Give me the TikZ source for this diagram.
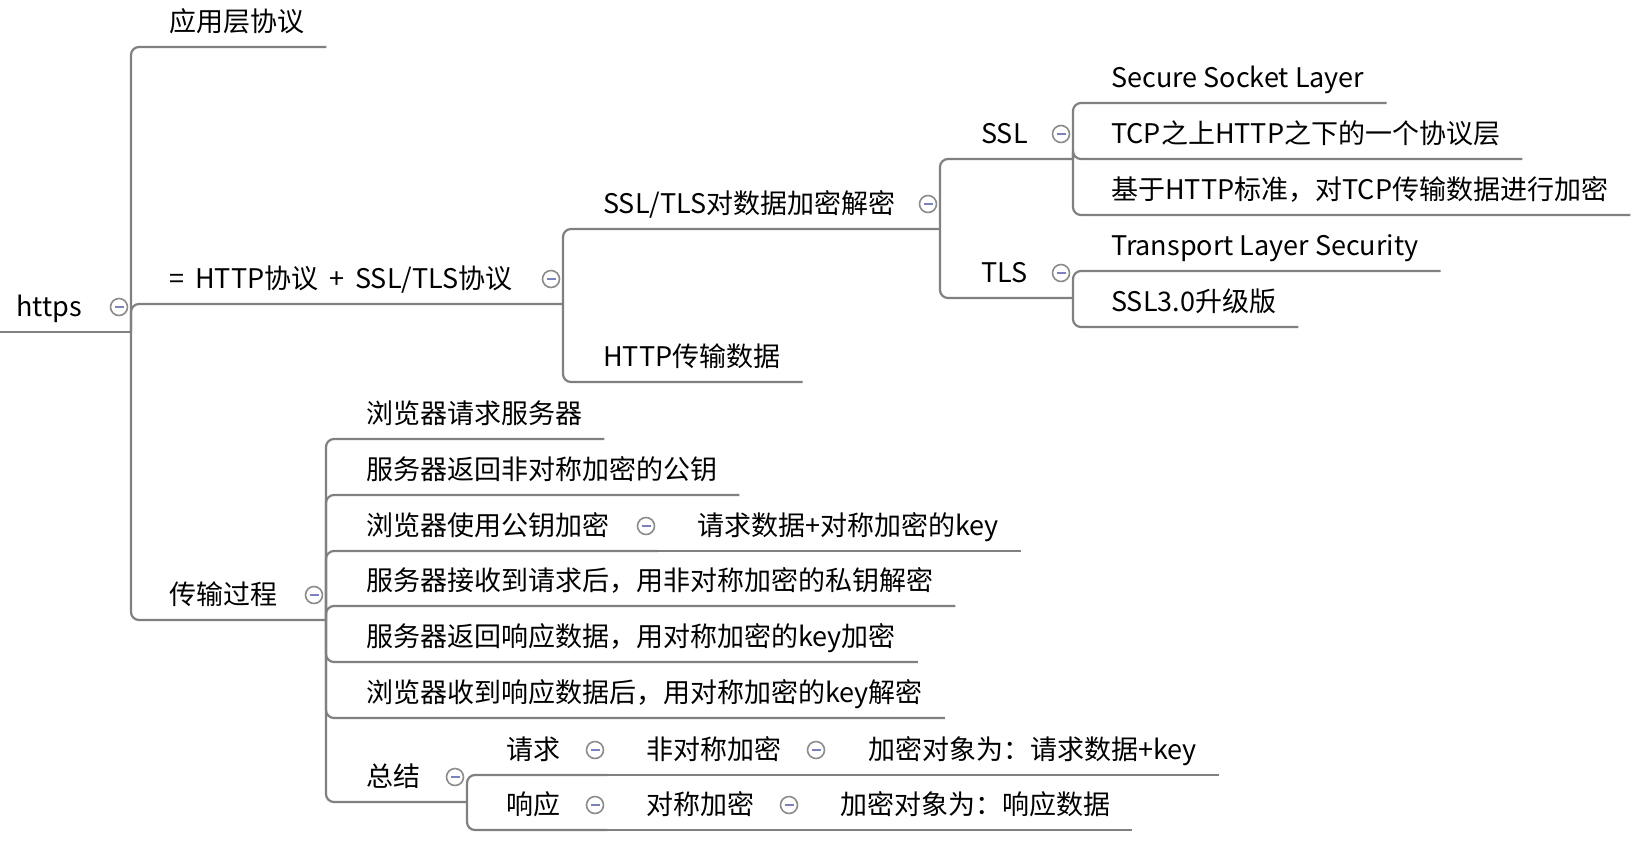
\documentclass[tikz,border=0pt]{standalone}
\usepackage{fontspec}
\setmainfont{Noto Sans CJK SC}
\definecolor{branchgrey}{RGB}{128,128,128}
\definecolor{foldgrey}{RGB}{140,140,140}
\definecolor{foldminus}{RGB}{125,130,190}
\begin{document}
\begin{tikzpicture}[x=1pt,y=-1pt]
		\newcommand{\gap}{22pt} % underline past the end of a leaf
		\newcommand{\wsp}{\hspace{11pt}} % wide space
		\newcommand{\colA}{169}
		\newcommand{\colB}{603}
		\newcommand{\colC}{981}
		\newcommand{\colD}{1111}
		\newcommand{\colE}{366}
		\newcommand{\colF}{506}

		% set the styles of the topics, branches and fold buttons
		\tikzset{
			topic/.style={
				anchor=south west,
				inner sep=0pt,
				text depth=15pt,
				font=\fontsize{27}{32}\selectfont
				},
			branch/.style={
				draw=branchgrey,
				line width=2.2pt,
				rounded corners=8pt
				},
			fold/.style={
				circle,
				draw=foldgrey,
				fill=white,
				line width=1.6pt,
				minimum size=17pt,
				inner sep=0pt,
				path picture={\draw[foldminus, line width=2pt] ([xshift=-4.5pt]path picture bounding box.center) -- ([xshift=4.5pt]path picture bounding box.center);}
				}
		}

		\useasboundingbox (0,0) rectangle (1648,844);

		% junctions
		\coordinate (root-s) at (0,332);
		\coordinate (root-j) at (131,332);
		\coordinate (eq-j) at (563,304);
		\coordinate (ssltls-j) at (940,229);
		\coordinate (ssl-j) at (1073,159);
		\coordinate (tls-j) at (1073,298);
		\coordinate (trans-j) at (326,620);
		\coordinate (pub-j) at (658,551);
		\coordinate (sum-j) at (467,802);
		\coordinate (req-j) at (607,775);
		\coordinate (asym-j) at (828,775);
		\coordinate (resp-j) at (607,830);
		\coordinate (sym-j) at (801,830);

		% topics
		\node[topic] (https) at (16,332) {https};
		\node[topic] (app) at (\colA,47) {应用层协议};
		\node[topic] (eq) at (\colA,304) {=\wsp HTTP协议\wsp+\wsp SSL/TLS协议};
		\node[topic] (trans) at (\colA,620) {传输过程};

		\node[topic] (ssltls) at (\colB,229) {SSL/TLS对数据加密解密};
		\node[topic] (httpdata) at (\colB,382) {HTTP传输数据};

		\node[topic] (ssl) at (\colC,159) {SSL};
		\node[topic] (tls) at (\colC,298) {TLS};

		\node[topic] (ssl-a) at (\colD,103) {Secure Socket Layer};
		\node[topic] (ssl-b) at (\colD,159) {TCP之上HTTP之下的一个协议层};
		\node[topic] (ssl-c) at (\colD,215) {基于HTTP标准，对TCP传输数据进行加密};
		\node[topic] (tls-a) at (\colD,271) {Transport Layer Security};
		\node[topic] (tls-b) at (\colD,327) {SSL3.0升级版};

		\node[topic] (step1) at (\colE,439) {浏览器请求服务器};
		\node[topic] (step2) at (\colE,495) {服务器返回非对称加密的公钥};
		\node[topic] (step3) at (\colE,551) {浏览器使用公钥加密};
		\node[topic] (step3-a) at (697,551) {请求数据+对称加密的key};
		\node[topic] (step4) at (\colE,606) {服务器接收到请求后，用非对称加密的私钥解密};
		\node[topic] (step5) at (\colE,662) {服务器返回响应数据，用对称加密的key加密};
		\node[topic] (step6) at (\colE,718) {浏览器收到响应数据后，用对称加密的key解密};
		\node[topic] (sum) at (\colE,802) {总结};

		\node[topic] (req) at (\colF,775) {请求};
		\node[topic] (asym) at (646,775) {非对称加密};
		\node[topic] (asym-a) at (868,775) {加密对象为：请求数据+key};
		\node[topic] (resp) at (\colF,830) {响应};
		\node[topic] (sym) at (646,830) {对称加密};
		\node[topic] (sym-a) at (840,830) {加密对象为：响应数据};

		% branches
		\draw[branch] (root-s) -- (root-j);
		\draw[branch] (root-j) |- ([xshift=\gap]app.south east);
		\draw[branch] (root-j) |- (eq-j);
		\draw[branch] (root-j) |- (trans-j);

		\draw[branch] (eq-j) |- (ssltls-j);
		\draw[branch] (eq-j) |- ([xshift=\gap]httpdata.south east);

		\draw[branch] (ssltls-j) |- (ssl-j);
		\draw[branch] (ssltls-j) |- (tls-j);

		\foreach \leaf in {ssl-a,ssl-b,ssl-c}
			\draw[branch] (ssl-j) |- ([xshift=\gap]\leaf.south east);
		\foreach \leaf in {tls-a,tls-b}
			\draw[branch] (tls-j) |- ([xshift=\gap]\leaf.south east);

		\foreach \leaf in {step1,step2,step4,step5,step6}
			\draw[branch] (trans-j) |- ([xshift=\gap]\leaf.south east);
		\draw[branch] (trans-j) |- (pub-j);
		\draw[branch] (pub-j) -- ([xshift=\gap]step3-a.south east);
		\draw[branch] (trans-j) |- (sum-j);

		\draw[branch] (sum-j) |- (req-j);
		\draw[branch] (sum-j) |- (resp-j);
		\draw[branch] (req-j) -- (asym-j);
		\draw[branch] (asym-j) -- ([xshift=\gap]asym-a.south east);
		\draw[branch] (resp-j) -- (sym-j);
		\draw[branch] (sym-j) -- ([xshift=\gap]sym-a.south east);

		% fold buttons
		\foreach \j in {root-j,eq-j,ssltls-j,ssl-j,tls-j,trans-j,pub-j,sum-j,req-j,asym-j,resp-j,sym-j}
			\node[fold] (\j-f) at ([xshift=-12pt,yshift=25pt]\j) {};

\end{tikzpicture}
\end{document}
